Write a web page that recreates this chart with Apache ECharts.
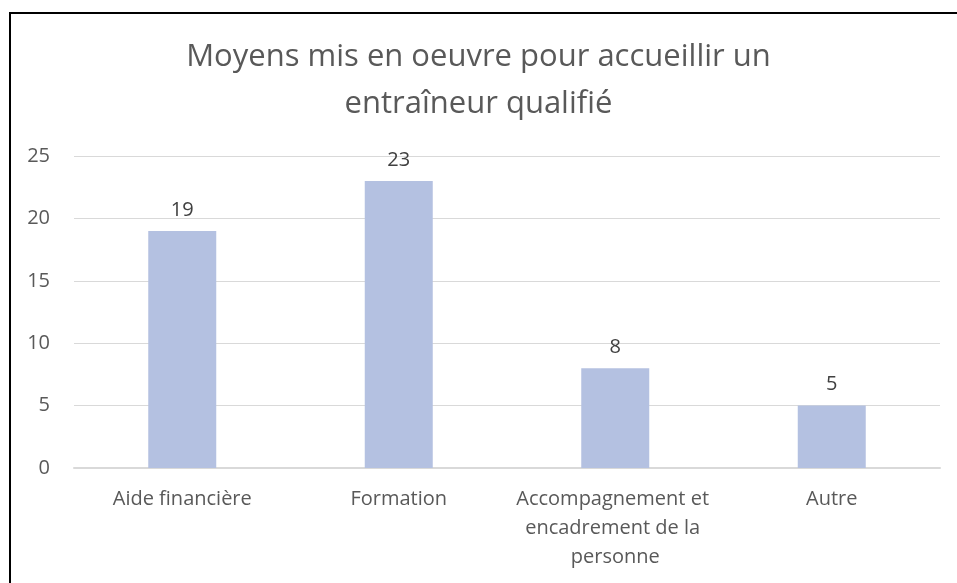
<!DOCTYPE html>
<html>
<head>
<meta charset="utf-8">
<script src="https://cdn.jsdelivr.net/npm/echarts@6/dist/echarts.min.js"></script>
<style>
  html, body { margin: 0; padding: 0; background: #fff; overflow: hidden; }
  #chart { width: 957px; height: 583px; }
  #frame { position: absolute; left: 9px; top: 12px; width: 1000px; height: 700px;
           border: 2px solid #000; pointer-events: none; }
</style>
</head>
<body>
<div id="chart"></div>
<div id="frame"></div>
<script>
// données du graphique
var titre = 'Moyens mis en oeuvre pour accueillir un\nentraîneur qualifié';
var categories = ['Aide financière', 'Formation', 'Accompagnement et encadrement de la personne', 'Autre'];
var valeurs = [19, 23, 8, 5];
var axeY = { min: 0, max: 25, interval: 5 };

var police = '"Open Sans", "Noto Sans", sans-serif';
var chart = echarts.init(document.getElementById('chart'));

var option = {
    animation: false,
    title: {
        text: titre,
        left: 'center',
        top: 29,
        textStyle: {
            fontFamily: police,
            fontSize: 31,
            fontWeight: 'normal',
            color: '#595959',
            lineHeight: 47
        }
    },
    grid: {
        left: 74,
        right: 17,
        top: 156,
        bottom: 115
    },
    xAxis: {
        type: 'category',
        data: categories,
        axisLine: { show: true, lineStyle: { color: '#D9D9D9', width: 2 } },
        axisTick: { show: false },
        axisLabel: {
            interval: 0,
            margin: 17,
            width: 205,
            overflow: 'break',
            lineHeight: 29,
            fontFamily: police,
            fontSize: 20,
            color: '#595959'
        }
    },
    yAxis: {
        type: 'value',
        min: axeY.min,
        max: axeY.max,
        interval: axeY.interval,
        axisLine: { show: false },
        axisTick: { show: false },
        axisLabel: {
            margin: 24,
            fontFamily: police,
            fontSize: 20,
            color: '#595959'
        },
        splitLine: { lineStyle: { color: '#D9D9D9', width: 1 } }
    },
    series: [
        {
            type: 'bar',
            data: valeurs,
            barWidth: 68,
            itemStyle: { color: '#B4C1E1' },
            label: {
                show: true,
                position: 'top',
                distance: 11,
                fontFamily: police,
                fontSize: 20,
                color: '#404040'
            }
        }
    ]
};

chart.setOption(option);
</script>
</body>
</html>
